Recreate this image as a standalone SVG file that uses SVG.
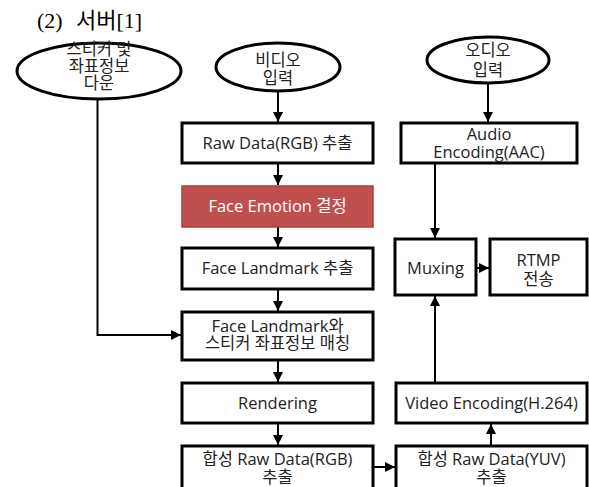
<svg xmlns="http://www.w3.org/2000/svg" width="589" height="487" viewBox="0 0 589 487">
<defs>
<style>
.box{fill:#fff;stroke:#000;stroke-width:3}
.red{fill:#C0504D;stroke:#A5403D;stroke-width:1.5}
.ell{fill:#fff;stroke:#000;stroke-width:3}
.t{font-family:"Open Sans","Noto Sans CJK KR",sans-serif;font-size:16.5px;fill:#222;text-anchor:middle}
.tw{fill:#fff}
.ln{fill:none;stroke:#000;stroke-width:2}
.title{font-family:"Liberation Serif","Noto Sans CJK KR",serif;font-size:22px;fill:#000}
</style>
<marker id="ar" viewBox="0 0 10 10" refX="10" refY="5" markerWidth="5" markerHeight="5" orient="auto" markerUnits="strokeWidth">
<path d="M0,0 L10,5 L0,10 z" fill="#000"/>
</marker>
</defs>
<rect width="589" height="487" fill="#fff"/>
<text class="title" x="37" y="28">(2)<tspan x="76">서버[1]</tspan></text>

<g id="connectors">
<path class="ln" d="M97.5,99 V335 H181" marker-end="url(#ar)"/>
<path class="ln" d="M278,91 V122" marker-end="url(#ar)"/>
<path class="ln" d="M278,164 V185" marker-end="url(#ar)"/>
<path class="ln" d="M278,227 V247" marker-end="url(#ar)"/>
<path class="ln" d="M278,290 V311" marker-end="url(#ar)"/>
<path class="ln" d="M278,361 V382" marker-end="url(#ar)"/>
<path class="ln" d="M278,424 V445" marker-end="url(#ar)"/>
<path class="ln" d="M488,83 V122" marker-end="url(#ar)"/>
<path class="ln" d="M435,164 V238" marker-end="url(#ar)"/>
<path class="ln" d="M477,268 H489" marker-end="url(#ar)"/>
<path class="ln" d="M435,382 V296" marker-end="url(#ar)"/>
<path class="ln" d="M491,445 V424" marker-end="url(#ar)"/>
<path class="ln" d="M374,467 H395" marker-end="url(#ar)"/>
</g>

<g id="sticker">
<ellipse class="ell" cx="99" cy="71" rx="82" ry="28"/>
<text class="t" x="99" y="55">스티커 및</text>
<text class="t" x="99" y="72">좌표정보</text>
<text class="t" x="99" y="89">다운</text>
</g>
<g id="video-in">
<ellipse class="ell" cx="278" cy="67" rx="62" ry="24"/>
<text class="t" x="278" y="66">비디오</text>
<text class="t" x="278" y="84">입력</text>
</g>
<g id="audio-in">
<ellipse class="ell" cx="488" cy="60" rx="61" ry="23"/>
<text class="t" x="488" y="56">오디오</text>
<text class="t" x="488" y="76">입력</text>
</g>
<g id="raw-rgb">
<rect class="box" x="182" y="123" width="191" height="40"/>
<text class="t" x="277.5" y="149">Raw Data(RGB) 추출</text>
</g>
<g id="emotion">
<rect class="red" x="182" y="186" width="191" height="41"/>
<text class="t tw" x="277.5" y="212">Face Emotion 결정</text>
</g>
<g id="landmark">
<rect class="box" x="182" y="248" width="191" height="41"/>
<text class="t" x="277.5" y="274">Face Landmark 추출</text>
</g>
<g id="matching">
<rect class="box" x="182" y="312" width="191" height="48"/>
<text class="t" x="277.5" y="332">Face Landmark와</text>
<text class="t" x="277.5" y="349">스티커 좌표정보 매칭</text>
</g>
<g id="rendering">
<rect class="box" x="182" y="383" width="191" height="40"/>
<text class="t" x="277.5" y="409">Rendering</text>
</g>
<g id="synth-rgb">
<rect class="box" x="182" y="446" width="191" height="46"/>
<text class="t" x="277.5" y="465">합성 Raw Data(RGB)</text>
<text class="t" x="277.5" y="483">추출</text>
</g>
<g id="audio-enc">
<rect class="box" x="401" y="123" width="176" height="40"/>
<text class="t" x="489" y="140">Audio</text>
<text class="t" x="489" y="158">Encoding(AAC)</text>
</g>
<g id="muxing">
<rect class="box" x="395" y="239" width="81" height="56"/>
<text class="t" x="435.5" y="274">Muxing</text>
</g>
<g id="rtmp">
<rect class="box" x="490" y="239" width="97" height="56"/>
<text class="t" x="538.5" y="266">RTMP</text>
<text class="t" x="538.5" y="285">전송</text>
</g>
<g id="video-enc">
<rect class="box" x="396" y="383" width="191" height="40"/>
<text class="t" x="491.5" y="409">Video Encoding(H.264)</text>
</g>
<g id="synth-yuv">
<rect class="box" x="396" y="446" width="191" height="46"/>
<text class="t" x="491.5" y="465">합성 Raw Data(YUV)</text>
<text class="t" x="491.5" y="483">추출</text>
</g>
</svg>
